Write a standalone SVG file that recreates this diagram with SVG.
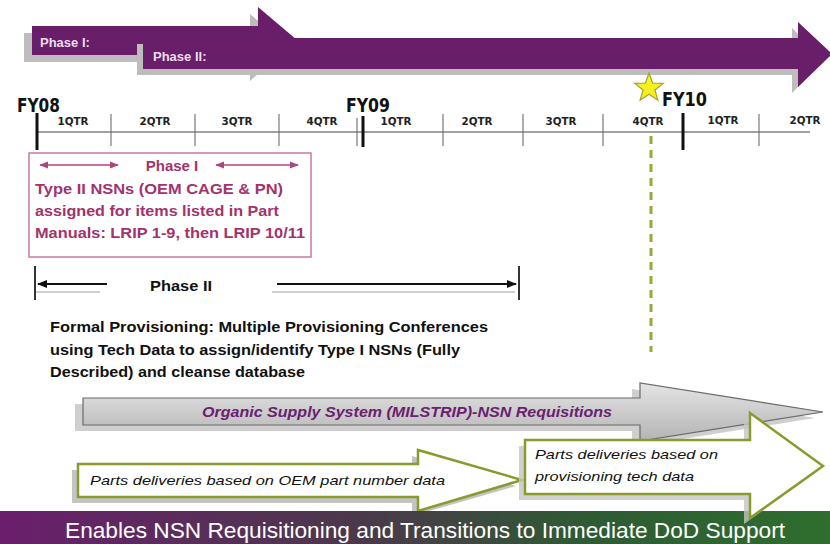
<svg xmlns="http://www.w3.org/2000/svg" width="830" height="544" viewBox="0 0 830 544">
<defs>
<style>
.bar{fill:#681e68;}
.shadow{fill:#bdbdbd;}
.ptxt{font-family:"Liberation Sans",Arial,sans-serif;font-weight:bold;font-size:13px;fill:#eadcea;}
.fy{font-family:"DejaVu Sans Condensed","DejaVu Sans",sans-serif;font-weight:bold;font-size:20px;fill:#111;}
.q{font-family:"DejaVu Sans Condensed","DejaVu Sans",sans-serif;font-weight:bold;font-size:11px;fill:#222;}
.major{stroke:#111;stroke-width:3;}
.minor{stroke:#777;stroke-width:1.2;}
.mag{font-family:"Liberation Sans",Arial,sans-serif;font-weight:bold;font-size:15px;fill:#a2336c;}
.blk{font-family:"Liberation Sans",Arial,sans-serif;font-weight:bold;font-size:15px;fill:#111;}
.it{font-family:"Liberation Sans",Arial,sans-serif;font-style:italic;font-size:13.5px;fill:#111;}
.wa{fill:#fff;stroke:#8a9a2c;stroke-width:2.5;}
</style>
<marker id="mArrM" viewBox="0 0 10 10" refX="9" refY="5" markerWidth="6" markerHeight="6" orient="auto-start-reverse"><path d="M0,1 L10,5 L0,9 z" fill="#b0457e"/></marker>
<marker id="mArrK" viewBox="0 0 10 10" refX="9" refY="5" markerWidth="5" markerHeight="5" orient="auto-start-reverse"><path d="M0,1 L10,5 L0,9 z" fill="#111"/></marker>
<linearGradient id="gGray" x1="0" y1="0" x2="0" y2="1"><stop offset="0" stop-color="#e4e4e4"/><stop offset="1" stop-color="#b4b4b4"/></linearGradient>
<linearGradient id="gBanner" x1="0" y1="0" x2="1" y2="0"><stop offset="0" stop-color="#6a1f6c"/><stop offset="0.45" stop-color="#4a3a4a"/><stop offset="0.7" stop-color="#2f5a34"/><stop offset="1" stop-color="#2e6e2e"/></linearGradient>
</defs>
<rect width="830" height="544" fill="#fff"/>

<g id="phase1-arrow">
<polygon class="shadow" points="24,33 250,33 250,14 289,47 250,81 250,62 24,62"/>
<polygon class="bar" points="32,26 258,26 258,7 297,40 258,74 258,55 32,55"/>
<text class="ptxt" x="40" y="47">Phase I:</text>
</g>

<g id="phase2-arrow">
<polygon class="shadow" points="137,44 792,44 792,28 824,60 792,93 792,75 137,75"/>
<polygon class="bar" points="143,38 798,38 798,22 832,54 798,87 798,69 143,69"/>
<text class="ptxt" x="153" y="61">Phase II:</text>
</g>

<g id="timeline">
<line x1="37" y1="132" x2="810" y2="132" stroke="#444" stroke-width="1.2"/>
<line class="major" x1="37" y1="113" x2="37" y2="150"/>
<line class="major" x1="363" y1="116" x2="363" y2="147"/>
<line class="major" x1="683" y1="113" x2="683" y2="150"/>
<line class="minor" x1="111" y1="114" x2="111" y2="146"/>
<line class="minor" x1="195" y1="114" x2="195" y2="146"/>
<line class="minor" x1="279" y1="114" x2="279" y2="146"/>
<line class="minor" x1="357" y1="118" x2="357" y2="146"/>
<line class="minor" x1="443" y1="114" x2="443" y2="146"/>
<line class="minor" x1="523" y1="114" x2="523" y2="146"/>
<line class="minor" x1="603" y1="114" x2="603" y2="146"/>
<line class="minor" x1="759" y1="114" x2="759" y2="146"/>
<text class="fy" x="17" y="112" textLength="43" lengthAdjust="spacingAndGlyphs">FY08</text>
<text class="fy" x="346" y="112" textLength="44" lengthAdjust="spacingAndGlyphs">FY09</text>
<text class="fy" x="662" y="106" textLength="45" lengthAdjust="spacingAndGlyphs">FY10</text>
<g text-anchor="middle">
<text class="q" x="73" y="125" textLength="31" lengthAdjust="spacingAndGlyphs">1QTR</text>
<text class="q" x="155" y="125" textLength="31" lengthAdjust="spacingAndGlyphs">2QTR</text>
<text class="q" x="237" y="125" textLength="31" lengthAdjust="spacingAndGlyphs">3QTR</text>
<text class="q" x="322" y="125" textLength="31" lengthAdjust="spacingAndGlyphs">4QTR</text>
<text class="q" x="396" y="125" textLength="31" lengthAdjust="spacingAndGlyphs">1QTR</text>
<text class="q" x="477" y="125" textLength="31" lengthAdjust="spacingAndGlyphs">2QTR</text>
<text class="q" x="561" y="125" textLength="31" lengthAdjust="spacingAndGlyphs">3QTR</text>
<text class="q" x="648" y="125" textLength="31" lengthAdjust="spacingAndGlyphs">4QTR</text>
<text class="q" x="723" y="124" textLength="31" lengthAdjust="spacingAndGlyphs">1QTR</text>
<text class="q" x="805" y="124" textLength="31" lengthAdjust="spacingAndGlyphs">2QTR</text>
</g>
</g>

<g id="star">
<polygon points="649,73 652.64,82.98 663.27,83.36 654.9,89.92 657.82,100.14 649,94.2 640.18,100.14 643.1,89.92 634.73,83.36 645.36,82.98" fill="#f6f01e" stroke="#a5a032" stroke-width="1.2"/>
</g>

<g id="phase1-box">
<rect x="29" y="153" width="282" height="104" fill="#fff" stroke="#c87aa2" stroke-width="1.5"/>
<text class="mag" x="172" y="171" text-anchor="middle">Phase I</text>
<text class="mag" x="35" y="194" textLength="248" lengthAdjust="spacingAndGlyphs">Type II NSNs (OEM CAGE &amp; PN)</text>
<text class="mag" x="35" y="216" textLength="244" lengthAdjust="spacingAndGlyphs">assigned for items listed in Part</text>
<text class="mag" x="35" y="238" textLength="270" lengthAdjust="spacingAndGlyphs">Manuals:  LRIP 1-9, then LRIP 10/11</text>
</g>

<g id="phase2-label">
<text class="blk" x="150" y="291" textLength="62" lengthAdjust="spacingAndGlyphs">Phase II</text>
</g>

<g id="formal-provisioning">
<text class="blk" x="50" y="332" textLength="438" lengthAdjust="spacingAndGlyphs">Formal Provisioning:  Multiple Provisioning Conferences</text>
<text class="blk" x="50" y="355" textLength="410" lengthAdjust="spacingAndGlyphs">using Tech Data to assign/identify Type I NSNs (Fully</text>
<text class="blk" x="50" y="377" textLength="255" lengthAdjust="spacingAndGlyphs">Described) and cleanse database</text>
</g>

<g id="organic-supply">
<polygon points="75,404 632,404 632,389 815,418 632,447 632,431 75,431" fill="#cfcfcf"/>
<polygon points="83,398 640,398 640,383 823,412 640,441 640,425 83,425" fill="url(#gGray)" stroke="#6a6a6a" stroke-width="1.2"/>
<text x="202" y="417" font-family="Liberation Sans, Arial, sans-serif" font-weight="bold" font-style="italic" font-size="15" fill="#6a2070" textLength="410" lengthAdjust="spacingAndGlyphs">Organic Supply System (MILSTRIP)-NSN Requisitions</text>
</g>

<g id="oem-deliveries">
<polygon points="72,470 412,470 412,456 516,486 412,516 412,503 72,503" fill="#c4c4c4"/>
<polygon class="wa" points="78,464 418,464 418,450 522,480 418,511 418,497 78,497"/>
<text class="it" x="90" y="485" textLength="355" lengthAdjust="spacingAndGlyphs">Parts deliveries based on OEM part number data</text>
</g>

<g id="banner">
<rect x="0" y="511" width="830" height="33" fill="url(#gBanner)"/>
<text x="65" y="538" font-family="Liberation Sans, Arial, sans-serif" font-size="22" fill="#fff" textLength="720" lengthAdjust="spacingAndGlyphs">Enables NSN Requisitioning and Transitions to Immediate DoD Support</text>
</g>

<g id="provisioning-deliveries">
<polygon points="519,446 744,446 744,419 817,472 744,524 744,500 519,500" fill="#c4c4c4" opacity="0.8"/>
<polygon class="wa" points="525,440 750,440 750,413 823,466 750,518 750,494 525,494"/>
<text class="it" x="535" y="459" textLength="183" lengthAdjust="spacingAndGlyphs">Parts deliveries based on</text>
<text class="it" x="535" y="481" textLength="159" lengthAdjust="spacingAndGlyphs">provisioning tech data</text>
</g>

<g id="connectors">
<line x1="40" y1="165" x2="118" y2="165" stroke="#b0457e" stroke-width="1.5" marker-start="url(#mArrM)" marker-end="url(#mArrM)"/>
<line x1="216" y1="165" x2="298" y2="165" stroke="#b0457e" stroke-width="1.5" marker-start="url(#mArrM)" marker-end="url(#mArrM)"/>
<line x1="36" y1="292" x2="100" y2="292" stroke="#cfcfcf" stroke-width="2"/>
<line x1="272" y1="292" x2="515" y2="292" stroke="#cfcfcf" stroke-width="2"/>
<line x1="35" y1="266" x2="35" y2="300" stroke="#333" stroke-width="2"/>
<line x1="519" y1="266" x2="519" y2="300" stroke="#333" stroke-width="2"/>
<line x1="38" y1="284" x2="107" y2="284" stroke="#111" stroke-width="2" marker-start="url(#mArrK)"/>
<line x1="277" y1="284" x2="516" y2="284" stroke="#111" stroke-width="2" marker-end="url(#mArrK)"/>
<line x1="651" y1="136" x2="651" y2="352" stroke="#98a83a" stroke-width="3" stroke-dasharray="8,6"/>
</g>
</svg>
